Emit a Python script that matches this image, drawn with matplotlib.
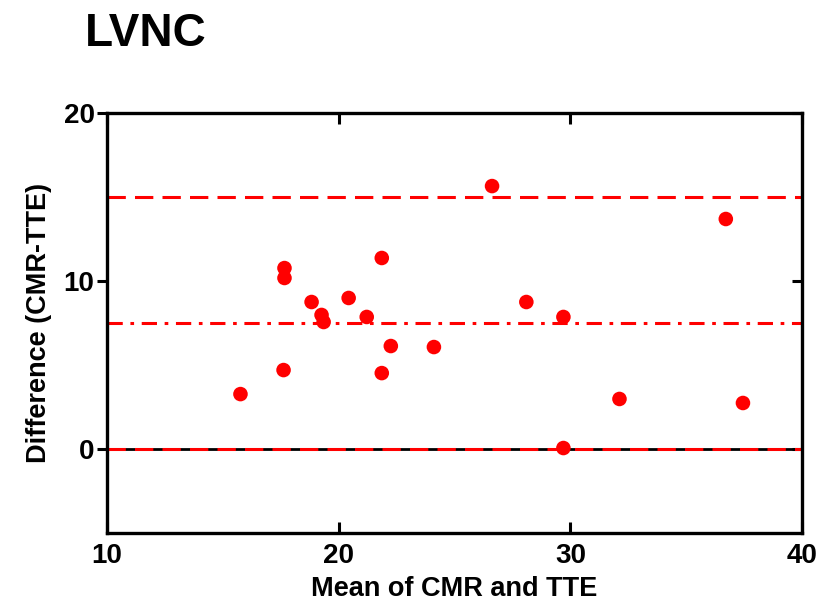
import matplotlib
matplotlib.use("Agg")
import matplotlib.pyplot as plt
import matplotlib.lines as mlines

plt.rcParams['font.family'] = ['Liberation Sans', 'DejaVu Sans']

mean_vals = [15.76, 17.62, 17.66, 17.66, 18.83, 19.26, 19.35, 20.43, 21.21, 21.86,
             21.86, 22.25, 24.11, 26.62, 28.10, 29.70, 29.70, 32.12, 36.71, 37.45]
diff_vals = [3.27, 4.70, 10.77, 10.18, 8.75, 7.98, 7.56, 8.99, 7.86, 11.37,
             4.52, 6.13, 6.07, 15.65, 8.75, 7.86, 0.06, 2.98, 13.69, 2.74]
bias = 7.5
upper_loa = 15.0
lower_loa = 0.0
x_ticks = [10, 20, 30, 40]
y_ticks = [0, 10, 20]

fig = plt.figure(figsize=(8.22, 6.12), dpi=100)
ax = fig.add_axes([0.1302, 0.129, 0.8455, 0.6864])

ax.axhline(0, color='black', lw=2.0, zorder=1)
ax.axhline(upper_loa, color='red', lw=2.2, dashes=(6, 3), zorder=2)
ax.axhline(bias, color='red', lw=2.2, dashes=(5, 2.5, 1.2, 2.5), zorder=2)
ax.axhline(lower_loa, color='red', lw=2.2, dashes=(6, 3), zorder=2)
ax.scatter(mean_vals, diff_vals, s=110, color='red', edgecolors='none', zorder=3)

ax.set_xlim(10, 40)
ax.set_ylim(-5, 20)
ax.set_xticks(x_ticks)
ax.set_yticks(y_ticks)
for s in ax.spines.values():
    s.set_linewidth(2.4)
ax.tick_params(axis='x', direction='in', length=8, width=2.2, top=True,
               labelsize=20, pad=7)
ax.tick_params(axis='y', direction='out', length=7, width=2.2, labelsize=20, pad=2,
               right=True)
for lab in ax.get_xticklabels() + ax.get_yticklabels():
    lab.set_fontweight('bold')

for tl in ax.yaxis.get_major_ticks():
    tl.tick2line.set_marker(mlines.TICKLEFT)

ax.set_xlabel('Mean of CMR and TTE', fontsize=19.5, fontweight='bold', labelpad=5)
ax.set_ylabel('Difference (CMR-TTE)', fontsize=19.5, fontweight='bold', labelpad=8)

fig.text(0.103, 0.925, 'LVNC', fontsize=33, fontweight='bold', ha='left', va='baseline')

fig.savefig('out.png', dpi=100)
